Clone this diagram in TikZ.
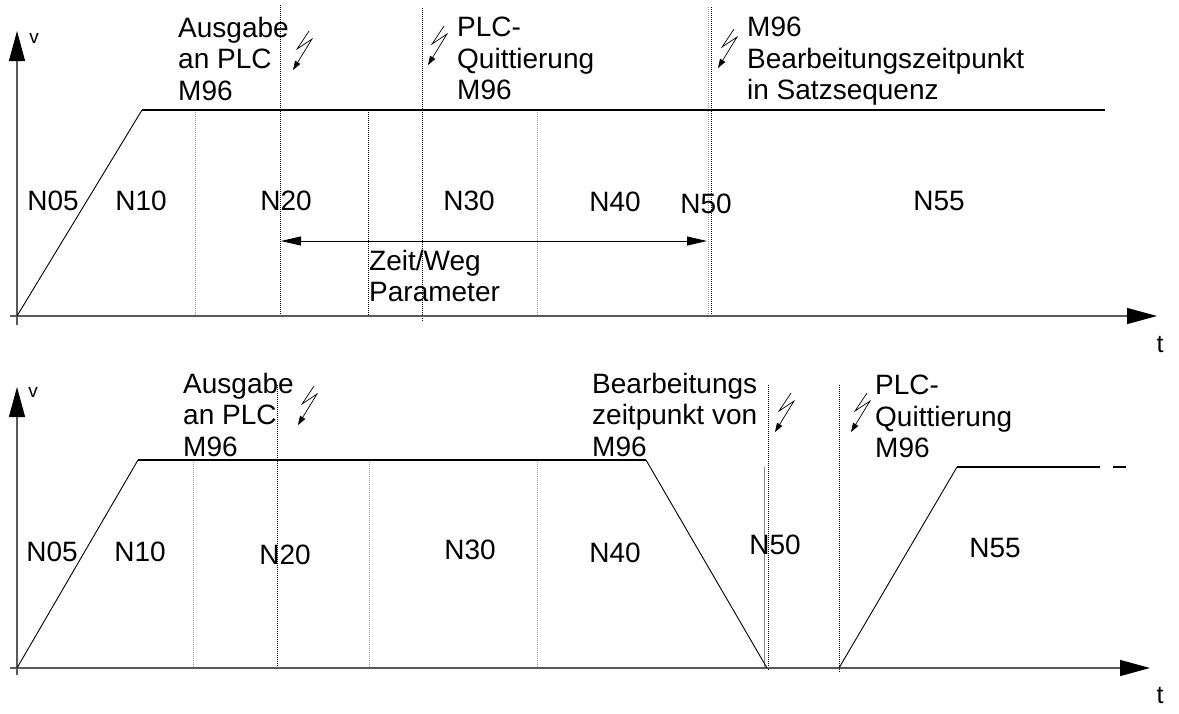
\documentclass[tikz,border=0pt]{standalone}
\usepackage{fontspec}
\setmainfont{Liberation Sans}
\usetikzlibrary{arrows.meta}

\begin{document}
\begin{tikzpicture}[x=1pt, y=-1pt,
  lbl/.style={inner sep=0pt, font=\fontsize{28}{31.5}\selectfont},
  txt/.style={lbl, align=left, anchor=north west},
  small/.style={inner sep=0pt, font=\fontsize{19}{21}\selectfont},
  axis/.style={draw=black!65, line width=1.3pt, -{Triangle[length=30pt, width=16pt, color=black, fill=black]}},
  profile/.style={black, line width=2.6pt},
  ramp/.style={black, line width=0.9pt},
  mark1/.style={black, line width=0.8pt, dash pattern=on 1pt off 1pt},
  mark2/.style={black!40, line width=0.8pt, dash pattern=on 1pt off 1pt},
  blitz/.style={black, line width=0.7pt, -{Triangle[length=9pt, width=6pt]}}]
  \useasboundingbox (0,0) rectangle (1179,713);

  % upper diagram: block transition with M96 output
  \coordinate (o1) at (17,316);
  \coordinate (r1) at (142,110);
  \coordinate (e1) at (1105,110);

  % guide lines
  \foreach \x/\ya in {280/5, 422/8, 368/110, 711/7}
    \draw[mark1] (\x,\ya) -- (\x,316);
  \draw[mark1] (422,316) -- (422,322);
  \foreach \x/\ya in {195/110, 537/110, 708/7}
    \draw[mark2] (\x,\ya) -- (\x,316);

  % axes
  \draw[axis] (17,325) -- (17,31);
  \draw[axis] (10,316) -- (1157,316);
  \node[small] (v1) at (34,38) {v};
  \node[lbl, font=\fontsize{25}{27}\selectfont] (t1) at (1160,345) {t};

  % speed profile
  \draw[ramp] (o1) -- (r1);
  \draw[profile] (r1) -- (e1);

  % block numbers
  \node[lbl] (a05) at (53,201) {N05};
  \node[lbl] (a10) at (141,201) {N10};
  \node[lbl] (a20) at (286,201) {N20};
  \node[lbl] (a30) at (469,201) {N30};
  \node[lbl] (a40) at (615,202) {N40};
  \node[lbl] (a50) at (706,204) {N50};
  \node[lbl] (a55) at (939,201) {N55};

  % time/path range
  \coordinate (da1) at (281,241);
  \coordinate (da2) at (707,241);
  \draw[black, line width=1pt, {Triangle[length=20pt, width=9pt]}-{Triangle[length=20pt, width=9pt]}] (da1) -- (da2);
  \node[txt] (zeit) at (369,250) {Zeit/Weg\\Parameter};

  % comments
  \node[txt] (aus1) at (178,17) {Ausgabe\\an PLC\\M96};
  \node[txt] (plc1) at (457,17) {PLC-\\Quittierung\\M96};
  \node[txt] (bea1) at (747,17) {M96\\Bearbeitungszeitpunkt\\in Satzsequenz};

  % lower diagram: stop until M96 is acknowledged
  \coordinate (o2) at (17,668);
  \coordinate (r2) at (138,460);
  \coordinate (f2) at (646,460);
  \coordinate (z1) at (767,668);
  \coordinate (z2) at (839,668);
  \coordinate (r3) at (957,467);
  \coordinate (e3) at (1100,467);
  \coordinate (d1) at (1113,467);
  \coordinate (d2) at (1126,467);

  % guide lines
  \foreach \x/\ya/\yb in {277/385/668, 768/385/670, 839/385/672}
    \draw[mark1] (\x,\ya) -- (\x,\yb);
  \foreach \x in {193, 369, 537}
    \draw[mark2] (\x,460) -- (\x,668);
  \draw[black!45, line width=0.8pt] (764,467) -- (764,668);

  % axes
  \draw[axis] (17,675) -- (17,387);
  \draw[axis] (10,668) -- (1150,668);
  \node[small] (v2) at (33,392) {v};
  \node[lbl, font=\fontsize{25}{27}\selectfont] (t2) at (1160,696) {t};

  % speed profile
  \draw[ramp] (o2) -- (r2);
  \draw[profile] (r2) -- (f2);
  \draw[ramp] (f2) -- (z1);
  \draw[ramp] (z2) -- (r3);
  \draw[profile] (r3) -- (e3);
  \draw[profile] (d1) -- (d2);

  % block numbers
  \node[lbl] (b05) at (52,552) {N05};
  \node[lbl] (b10) at (140,552) {N10};
  \node[lbl] (b20) at (285,555) {N20};
  \node[lbl] (b30) at (470,550) {N30};
  \node[lbl] (b40) at (615,553) {N40};
  \node[lbl] (b50) at (775,545) {N50};
  \node[lbl] (b55) at (995,548) {N55};

  % comments
  \node[txt] (aus2) at (183,373) {Ausgabe\\an PLC\\M96};
  \node[txt] (bea2) at (592,373) {Bearbeitungs\\zeitpunkt von\\M96};
  \node[txt] (plc2) at (875,375) {PLC-\\Quittierung\\M96};

  % signal arrows
  \foreach \x/\y in {293/70, 428/65, 718/68, 298/425, 775/432, 851/432}
    \draw[blitz] (\x+16,\y-39) -- (\x+4,\y-21) -- (\x+19,\y-31) -- (\x,\y);
\end{tikzpicture}
\end{document}
